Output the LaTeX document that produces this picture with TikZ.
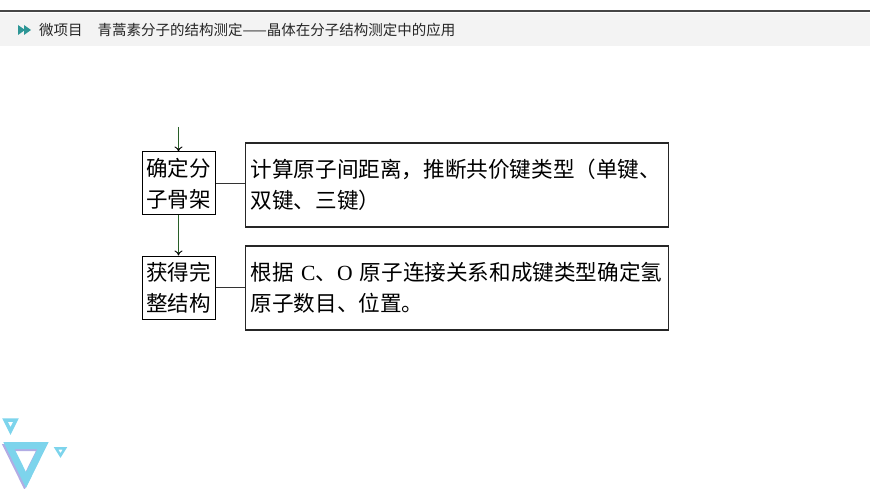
\documentclass[tikz,border=0pt]{standalone}
\usepackage{fontspec}
\setmainfont{Liberation Serif}
\newfontfamily\cjk{Noto Sans CJK SC}
\usetikzlibrary{positioning,arrows.meta,calc}
\definecolor{hdGray}{RGB}{243,243,243}
\definecolor{hdLine}{RGB}{70,70,70}
\definecolor{hdTeal}{RGB}{45,150,150}
\definecolor{flowGreen}{RGB}{40,95,40}
\definecolor{triCyan}{RGB}{125,212,236}
\definecolor{triPurple}{RGB}{178,172,228}

\tikzset{
  stepbox/.style={draw=black, line width=1pt, minimum width=73pt, minimum height=63pt,
    inner sep=2pt, align=center, font=\cjk\fontsize{21.5}{31}\selectfont},
  notebox/.style={draw=black!85, line width=1.4pt, minimum height=84pt, text width=413pt,
    inner xsep=5pt, align=left, font=\cjk\fontsize{21.6}{31}\selectfont},
  flowarrow/.style={flowGreen, line width=0.9pt, -{To[length=5pt, width=8pt, color=black]}},
  linkline/.style={black!80, line width=0.8pt}
}

\begin{document}
\begin{tikzpicture}[x=1pt, y=-1pt]
  \useasboundingbox (0,0) rectangle (870,489);

  % Header
  \fill[hdGray] (0,13) rectangle (870,46);
  \draw[hdLine, line width=1.2pt] (0,11) -- (870,11);
  \fill[hdTeal] (18,25) -- (25,30) -- (18,35) -- cycle;
  \fill[hdTeal] (24,25) -- (31,30) -- (24,35) -- cycle;
  \node[anchor=west, inner sep=0pt, text=black!85, font=\cjk\fontsize{14.5}{16}\selectfont] (title) at (39,30)
    {微项目\hspace{15pt}青蒿素分子的结构测定——晶体在分子结构测定中的应用};

  % Steps
  \coordinate (start) at (178.5,127);
  \node[stepbox] (skel) at (178.5,183.5) {确定分\\子骨架};
  \node[stepbox] (whole) at (178.5,287.5) {获得完\\整结构};

  % Notes
  \node[notebox, anchor=west] (calc) at (245,185)
    {计算原子间距离，推断共价键类型（单键、\\双键、三键）};
  \node[notebox, anchor=west] (hydro) at (245,288)
    {根据 {\rmfamily C}、{\rmfamily O} 原子连接关系和成键类型确定氢\\原子数目、位置。};

  % Arrows and links
  \draw[flowarrow] (start) -- (skel.north);
  \draw[flowarrow] (skel.south) -- (whole.north);
  \draw[linkline] (skel.east) -- (skel.east -| calc.west);
  \draw[linkline] (whole.east) -- (whole.east -| hydro.west);

  % Decorative triangles
  \draw[triPurple, line width=7pt, line join=miter] (7.5,447.5) -- (41.5,447.5) -- (24.5,482) -- cycle;
  \draw[triCyan, line width=7pt, line join=miter] (9,445.5) -- (43,445.5) -- (26,480) -- cycle;
  \draw[triCyan, line width=3.5pt, line join=miter] (5,420) -- (16,420) -- (10.5,431) -- cycle;
  \draw[triCyan, line width=2.5pt, line join=miter] (56,448.3) -- (65,448.3) -- (60.5,455.5) -- cycle;
\end{tikzpicture}
\end{document}
